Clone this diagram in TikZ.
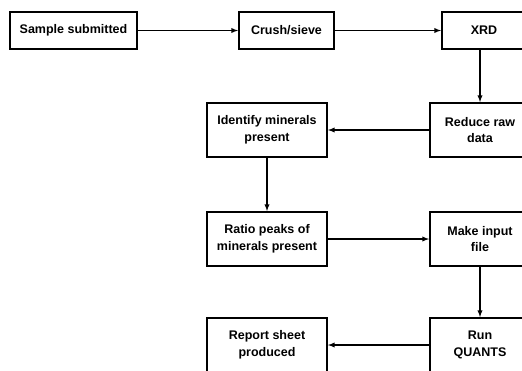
\documentclass[tikz,border=0pt]{standalone}
\usepackage{fontspec}
\setmainfont{Liberation Sans}
\usepackage{tikz}
\usetikzlibrary{arrows}

\begin{document}
\begin{tikzpicture}[x=1pt, y=-1pt, >=latex, font=\bfseries\fontsize{12.5}{16.5}\selectfont,
  box/.style = {draw, line width=1.8pt, align=center, minimum height=54pt, inner sep=2pt},
  link/.style = {->, line width=1.3pt}]
\useasboundingbox (0,0) rectangle (522,370);
\node[box, minimum width=127pt, minimum height=37pt] (sample) at (73.5,30.5) {Sample submitted};
\node[box, minimum width=95pt, minimum height=37pt] (crush) at (286.5,30.5) {Crush/sieve};
\node[box, minimum width=84pt, minimum height=37pt] (xrd) at (484,30.5) {XRD};
\node[box, minimum width=100pt] (reduce) at (480,130) {Reduce raw\\data};
\node[box, minimum width=120pt] (identify) at (267,130) {Identify minerals\\present};
\node[box, minimum width=120pt] (ratio) at (267,239) {Ratio peaks of\\minerals present};
\node[box, minimum width=100pt] (make) at (480,239) {Make input\\file};
\node[box, minimum width=100pt] (run) at (480,345) {Run\\QUANTS};
\node[box, minimum width=120pt] (report) at (267,345) {Report sheet\\produced};
\draw[link] (sample) -- (crush);
\draw[link] (crush) -- (xrd);
\draw[link] (xrd.south -| reduce) -- (reduce);
\draw[link] (reduce) -- (identify);
\draw[link] (identify) -- (ratio);
\draw[link] (ratio) -- (make);
\draw[link] (make) -- (run);
\draw[link] (run) -- (report);
\end{tikzpicture}
\end{document}
